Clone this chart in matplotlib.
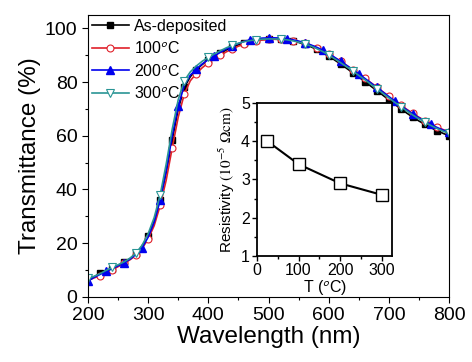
import matplotlib
matplotlib.use("Agg")
import matplotlib.pyplot as plt
from matplotlib.ticker import MultipleLocator

plt.rcParams["font.family"] = ["Liberation Sans", "DejaVu Sans"]
plt.rcParams["mathtext.fontset"] = "stix"

# wavelength grid (nm), 10 nm steps
wl = list(range(200, 801, 10))

t_asdep = [6.5, 7.3, 8.8, 9.6, 10.5, 11.6, 12.8, 14.2, 16.2, 18.8,
           22.8, 28.0, 36.0, 46.5, 58.5, 70.0, 78.0, 82.0, 84.6, 86.6,
           88.2, 89.6, 90.8, 92.0, 93.0, 93.9, 94.6, 95.2, 95.6, 95.9,
           96.0, 96.0, 95.9, 95.7, 95.3, 94.8, 94.1, 93.2, 92.2, 91.0,
           89.7, 88.2, 86.7, 85.1, 83.5, 81.9, 80.2, 78.5, 76.8, 75.1,
           73.4, 71.7, 70.0, 68.4, 66.9, 65.5, 64.2, 63.0, 61.9, 60.9, 60.0]
t_100 = [6.0, 7.0, 7.8, 9.0, 10.0, 11.2, 12.4, 13.8, 15.5, 18.0,
         21.5, 26.5, 34.0, 43.5, 55.5, 67.0, 75.5, 80.5, 83.2, 85.4,
         87.2, 88.7, 90.0, 91.3, 92.4, 93.4, 94.2, 94.9, 95.4, 95.7,
         95.9, 96.0, 96.0, 95.8, 95.5, 95.1, 94.5, 93.7, 92.8, 91.7,
         90.5, 89.1, 87.7, 86.2, 84.6, 83.0, 81.4, 79.8, 78.1, 76.4,
         74.7, 73.0, 71.4, 69.8, 68.3, 66.9, 65.6, 64.4, 63.3, 62.3, 61.5]
t_200 = [5.8, 7.2, 8.3, 9.4, 10.4, 11.5, 12.7, 14.0, 15.8, 18.3,
         22.2, 27.8, 36.0, 47.0, 60.0, 71.0, 78.8, 82.6, 84.8, 86.8,
         88.4, 89.8, 91.1, 92.4, 93.5, 94.4, 95.2, 95.8, 96.2, 96.4,
         96.5, 96.5, 96.4, 96.2, 95.8, 95.3, 94.7, 93.9, 93.0, 91.9,
         90.6, 89.2, 87.7, 86.2, 84.6, 83.0, 81.4, 79.7, 78.0, 76.3,
         74.6, 72.9, 71.2, 69.6, 68.1, 66.7, 65.4, 64.2, 63.1, 62.1, 61.3]
t_300 = [6.8, 7.6, 8.6, 9.8, 10.9, 11.9, 13.0, 14.4, 16.3, 19.2,
         23.5, 29.5, 38.0, 49.5, 62.5, 73.5, 80.5, 83.8, 86.0, 87.8,
         89.2, 90.5, 91.7, 92.8, 93.7, 94.5, 95.1, 95.5, 95.8, 96.0,
         96.1, 96.1, 96.0, 95.8, 95.4, 94.9, 94.3, 93.5, 92.5, 91.4,
         90.1, 88.7, 87.2, 85.7, 84.1, 82.5, 80.9, 79.2, 77.5, 75.8,
         74.1, 72.4, 70.8, 69.2, 67.7, 66.3, 65.0, 63.8, 62.7, 61.7, 60.9]

# inset: resistivity vs annealing temperature
temp = [25, 100, 200, 300]
resist = [4.0, 3.4, 2.9, 2.6]

fig = plt.figure(figsize=(4.72, 3.62), dpi=100)
ax = fig.add_axes([0.1864, 0.1804, 0.765, 0.778])

ax.plot(wl, t_asdep, color="black", lw=1.2, marker="s", ms=4.5,
        markevery=(2, 2), label="As-deposited")
ax.plot(wl, t_100, color="#e0202a", lw=1.2, marker="o", ms=5,
        mfc="white", mec="#e0202a", mew=0.8, markevery=(2, 2),
        label="100$^{\\mathsf{o}}$C")
ax.plot(wl, t_200, color="#0000ee", lw=1.2, marker="^", ms=5.5,
        markevery=(0, 3), label="200$^{\\mathsf{o}}$C")
ax.plot(wl, t_300, color="#2a9595", lw=1.2, marker="v", ms=6,
        mfc="white", mec="#2a9595", mew=0.8, markevery=(0, 4),
        label="300$^{\\mathsf{o}}$C")

ax.set_xlim(200, 800)
ax.set_ylim(0, 105)
ax.xaxis.set_major_locator(MultipleLocator(100))
ax.xaxis.set_minor_locator(MultipleLocator(50))
ax.yaxis.set_major_locator(MultipleLocator(20))
ax.yaxis.set_minor_locator(MultipleLocator(10))
ax.tick_params(which="both", direction="out", top=False, right=False,
               labelsize=14, width=0.8)
ax.tick_params(which="major", length=4)
ax.tick_params(which="minor", length=2.5)
for s in ax.spines.values():
    s.set_linewidth(0.8)
ax.set_xlabel("Wavelength (nm)", fontsize=17.5, labelpad=1)
ax.set_ylabel("Transmittance (%)", fontsize=17.5, labelpad=3)

ax.legend(loc="upper left", frameon=False, fontsize=11.5,
          handlelength=2.3, handletextpad=0.3, labelspacing=0.4,
          borderaxespad=0.05, borderpad=0.2)

ins = fig.add_axes([0.5445, 0.2928, 0.286, 0.4227])
ins.plot(temp, resist, color="black", lw=1.5, marker="s", ms=8,
         mfc="white", mec="black", mew=1.0)
ins.set_xlim(0, 325)
ins.set_ylim(1, 5)
ins.xaxis.set_major_locator(MultipleLocator(100))
ins.xaxis.set_minor_locator(MultipleLocator(50))
ins.yaxis.set_major_locator(MultipleLocator(1))
ins.yaxis.set_minor_locator(MultipleLocator(0.5))
ins.tick_params(which="both", direction="out", top=False, right=False,
                labelsize=11.5, width=1.0, pad=1.5)
ins.tick_params(which="major", length=3.5)
ins.tick_params(which="minor", length=2)
for s in ins.spines.values():
    s.set_linewidth(1.3)
ins.set_xlabel("T ($^{\\mathsf{o}}$C)", fontsize=11.5, labelpad=0)
ins.set_ylabel("Resistivity $(10^{-5}\\ \\Omega\\mathrm{cm})$", fontsize=11,
               labelpad=3)

fig.savefig("out.png", dpi=100)
